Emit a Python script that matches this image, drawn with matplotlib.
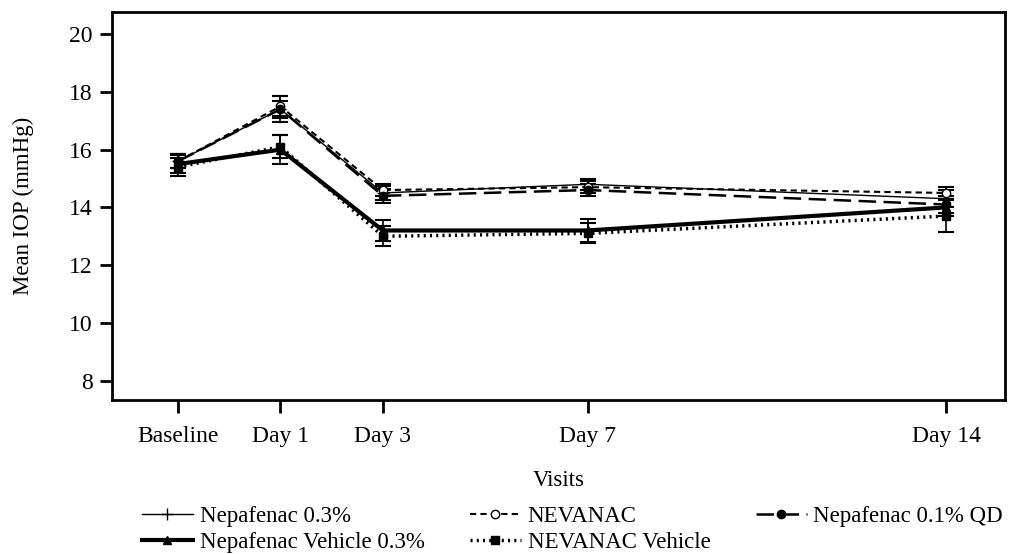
import matplotlib.pyplot as plt
from matplotlib.lines import Line2D

plt.rcParams['font.family'] = ['Liberation Serif', 'DejaVu Serif']

visits = ["Baseline", "Day 1", "Day 3", "Day 7", "Day 14"]
visit_days = [-1, 1, 3, 7, 14]

nep03 = [15.6, 17.4, 14.5, 14.8, 14.3]
nep03_err = [0.25, 0.45, 0.25, 0.2, 0.3]
nevanac = [15.6, 17.5, 14.6, 14.7, 14.5]
nevanac_err = [0.25, 0.35, 0.2, 0.2, 0.2]
nep01qd = [15.6, 17.4, 14.4, 14.6, 14.1]
nep01qd_err = [0.25, 0.3, 0.25, 0.2, 0.3]
veh03 = [15.5, 16.0, 13.2, 13.2, 14.0]
veh03_err = [0.3, 0.5, 0.35, 0.4, 0.3]
nev_veh = [15.4, 16.1, 13.0, 13.1, 13.7]
nev_veh_err = [0.3, 0.4, 0.35, 0.35, 0.55]

fig = plt.figure(figsize=(10.09, 5.54), dpi=100)
ax = fig.add_axes([0.111, 0.278, 0.885, 0.700])

series = [
    ("Nepafenac 0.3%", nep03, nep03_err, dict(ls='-', lw=1.0, marker='+', ms=8, mfc='black')),
    ("Nepafenac Vehicle 0.3%", veh03, veh03_err, dict(ls='-', lw=3.0, marker='^', ms=6, mfc='black')),
    ("NEVANAC", nevanac, nevanac_err, dict(ls=(0, (3, 2)), lw=1.5, marker='o', ms=6, mfc='white')),
    ("NEVANAC Vehicle", nev_veh, nev_veh_err, dict(ls=(0, (0.6, 1.2)), lw=2.5, marker='s', ms=6, mfc='black')),
    ("Nepafenac 0.1% QD", nep01qd, nep01qd_err, dict(ls=(0, (7, 3)), lw=1.8, marker='o', ms=6, mfc='black')),
]

handles = []
for label, vals, errs, style in series:
    ax.errorbar(visit_days, vals, yerr=errs, color='black', mec='black',
                capsize=6, elinewidth=1.2, capthick=1.5, **style)
    handles.append(Line2D([], [], color='black', mec='black', label=label, **style))

ax.set_xlim(-2.29, 15.15)
ax.set_ylim(7.33, 20.76)
ax.set_xticks(visit_days)
ax.set_xticklabels(visits)
ax.set_yticks(range(8, 21, 2))
ax.tick_params(axis='x', labelsize=17, width=2, length=9, pad=10)
ax.tick_params(axis='y', labelsize=17, width=2, length=9, pad=5)
for s in ax.spines.values():
    s.set_linewidth(2)
ax.set_xlabel("Visits", fontsize=16.5, labelpad=16)
ax.set_ylabel("Mean IOP (mmHg)", fontsize=16.5, labelpad=25)

fig.legend(handles=handles, loc='upper left', bbox_to_anchor=(0.141, 0.086), ncol=3,
           frameon=False, fontsize=16.5, handlelength=2.2, columnspacing=2.0,
           handletextpad=0.3, labelspacing=0.22, borderpad=0, borderaxespad=0)

fig.savefig("out.png", dpi=100)
